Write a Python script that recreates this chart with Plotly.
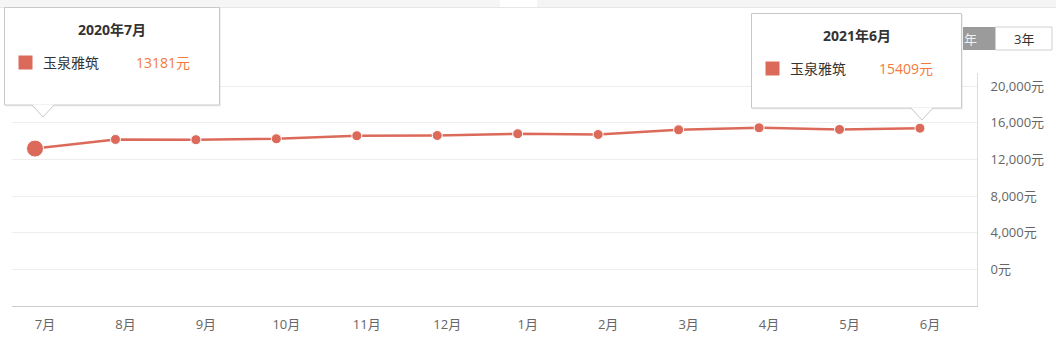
import plotly.graph_objects as go

# ---- data ----
months = ["7月", "8月", "9月", "10月", "11月", "12月", "1月", "2月", "3月", "4月", "5月", "6月"]
prices = [13181, 14180, 14150, 14250, 14580, 14610, 14800, 14720, 15230, 15450, 15270, 15409]
series_name = "玉泉雅筑"
y_ticks = [0, 4000, 8000, 12000, 16000, 20000]
y_tick_labels = [f"{v:,}元" for v in y_ticks]
tip1_title, tip1_value = "2020年7月", "13181元"
tip2_title, tip2_value = "2021年6月", "15409元"
buttons = ["年", "3年"]

W, H = 1056, 355
L, R, T, B = 12, 977, 73, 306  # plot area in pixels

LINE = "#dc6a5a"
ORANGE = "#f5793b"
BORDER = "#c8c8c8"
FONT = "Open Sans, Noto Sans CJK SC, sans-serif"


def px(x):
    return (x - L) / (R - L)


def py(y):
    return (B - y) / (B - T)


fig = go.Figure()
idx = list(range(len(months)))
fig.add_trace(go.Scatter(
    x=idx, y=prices, mode="lines+markers", name=series_name,
    line=dict(color=LINE, width=2.5),
    marker=dict(color=LINE, opacity=1, size=[17] + [10] * (len(months) - 1)),
    hoverinfo="skip", showlegend=False,
))

shapes = []
annotations = []

# top page band
shapes.append(dict(type="rect", xref="paper", yref="paper", x0=px(0), x1=px(500), y0=py(0), y1=py(7),
                   fillcolor="#f5f5f5", line=dict(width=0), layer="below"))
shapes.append(dict(type="rect", xref="paper", yref="paper", x0=px(537), x1=px(W), y0=py(0), y1=py(7),
                   fillcolor="#f4f4f4", line=dict(width=0), layer="below"))
shapes.append(dict(type="line", xref="paper", yref="paper", x0=px(0), x1=px(W), y0=py(7.5), y1=py(7.5),
                   line=dict(color="#e6e6e6", width=1), layer="below"))

# buttons
shapes.append(dict(type="rect", xref="paper", yref="paper", x0=px(963), x1=px(995), y0=py(27), y1=py(50),
                   fillcolor="#9b9b9b", line=dict(width=0)))
shapes.append(dict(type="rect", xref="paper", yref="paper", x0=px(995.5), x1=px(1052), y0=py(27), y1=py(50),
                   fillcolor="#ffffff", line=dict(color="#d0d0d0", width=1)))
annotations.append(dict(xref="paper", yref="paper", x=px(970), y=py(38.5), text=buttons[0], showarrow=False,
                        xanchor="center", yanchor="middle", font=dict(size=13, color="#f0f0f0", family=FONT)))
annotations.append(dict(xref="paper", yref="paper", x=px(1024), y=py(38.5), text=buttons[1], showarrow=False,
                        xanchor="center", yanchor="middle", font=dict(size=13, color="#333333", family=FONT)))


def tooltip(x0, x1, y0, y1, tipx, tipy, title, value, valx):
    # shadow
    shapes.append(dict(type="rect", xref="paper", yref="paper", x0=px(x0 + 1), x1=px(x1 + 1.5), y0=py(y0 + 1),
                       y1=py(y1 + 1.5), fillcolor="rgba(0,0,0,0.06)", line=dict(width=0), layer="above"))
    shapes.append(dict(type="rect", xref="paper", yref="paper", x0=px(x0), x1=px(x1), y0=py(y0), y1=py(y1),
                       fillcolor="#ffffff", line=dict(color=BORDER, width=1), layer="above"))
    hw = 11
    # white triangle covering border
    shapes.append(dict(type="path", xref="paper", yref="paper",
                       path=f"M {px(tipx-hw)},{py(y1-0.5)} L {px(tipx)},{py(tipy)} L {px(tipx+hw)},{py(y1-0.5)} Z",
                       fillcolor="#ffffff", line=dict(width=0), layer="above"))
    shapes.append(dict(type="path", xref="paper", yref="paper",
                       path=f"M {px(tipx-hw)},{py(y1)} L {px(tipx)},{py(tipy)} L {px(tipx+hw)},{py(y1)}",
                       line=dict(color=BORDER, width=1), layer="above"))
    cx = (x0 + x1) / 2
    annotations.append(dict(xref="paper", yref="paper", x=px(cx), y=py(y0 + 22), text=f"<b>{title}</b>",
                            showarrow=False, xanchor="center", yanchor="middle",
                            font=dict(size=14, color="#333333", family=FONT)))
    shapes.append(dict(type="rect", xref="paper", yref="paper", x0=px(x0 + 14), x1=px(x0 + 28),
                       y0=py(y0 + 48), y1=py(y0 + 62), fillcolor=LINE, line=dict(width=0), layer="above"))
    annotations.append(dict(xref="paper", yref="paper", x=px(x0 + 36), y=py(y0 + 55), text=series_name,
                            showarrow=False, xanchor="left", yanchor="middle",
                            font=dict(size=14, color="#333333", family=FONT)))
    annotations.append(dict(xref="paper", yref="paper", x=px(valx), y=py(y0 + 55), text=value,
                            showarrow=False, xanchor="left", yanchor="middle",
                            font=dict(size=14, color=ORANGE, family=FONT)))


tooltip(4.5, 219.5, 7.5, 105, 43, 117, tip1_title, tip1_value, 134)
tooltip(751.5, 961.5, 13.5, 108, 922, 120, tip2_title, tip2_value, 877)

# x range so that point i sits at pixel 35 + 80.45*i
step = 80.45
xr0 = (L - 35) / step
xr1 = (R - 35) / step
y_lo, y_hi = -4000, 21430

fig.update_layout(
    width=W, height=H,
    margin=dict(l=L, r=W - R, t=T, b=H - B, pad=0),
    paper_bgcolor="#ffffff", plot_bgcolor="#ffffff",
    font=dict(family=FONT, color="#666666"),
    shapes=shapes, annotations=annotations,
    xaxis=dict(range=[xr0, xr1], tickmode="array", tickvals=idx, ticktext=months,
               showgrid=False, zeroline=False, showline=True, linecolor="#cccccc", linewidth=1,
               ticks="", ticklabelshift=10, ticklabelstandoff=6,
               tickfont=dict(size=13, color="#666666", family=FONT), fixedrange=True),
    yaxis=dict(range=[y_lo, y_hi], side="right", tickmode="array", tickvals=y_ticks,
               ticktext=y_tick_labels, showgrid=True, gridcolor="#eeeeee", gridwidth=1,
               zeroline=False, showline=True, linecolor="#dddddd", linewidth=1, mirror=False,
               ticks="", ticklabelstandoff=10,
               tickfont=dict(size=13, color="#666666", family=FONT), fixedrange=True),
    showlegend=False,
)

fig.write_html("out.html")
